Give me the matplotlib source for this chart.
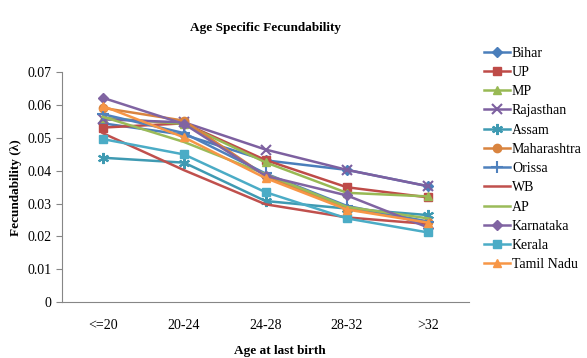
#!/usr/bin/env python3
"""Age specific fecundability by state, line chart."""

import matplotlib
matplotlib.use("Agg")
import matplotlib.pyplot as plt

plt.rcParams["font.family"] = ["Liberation Serif", "DejaVu Serif"]

# === DATA ===
age_groups = ["<=20", "20-24", "24-28", "28-32", ">32"]

bihar = [0.0545, 0.0510, 0.0432, 0.0403, 0.0353]
up = [0.0532, 0.0545, 0.0433, 0.0350, 0.0319]
mp = [0.0562, 0.0543, 0.0426, 0.0333, 0.0322]
rajasthan = [0.0557, 0.0548, 0.0465, 0.0403, 0.0353]
assam = [0.0440, 0.0425, 0.0308, 0.0285, 0.0265]
maharashtra = [0.0592, 0.0553, 0.0385, 0.0285, 0.0245]
orissa = [0.0573, 0.0515, 0.0392, 0.0293, 0.0245]
wb = [0.0515, 0.0402, 0.0298, 0.0258, 0.0238]
ap = [0.0565, 0.0488, 0.0390, 0.0290, 0.0255]
karnataka = [0.0623, 0.0543, 0.0385, 0.0325, 0.0227]
kerala = [0.0497, 0.0450, 0.0335, 0.0255, 0.0212]
tamil_nadu = [0.0598, 0.0502, 0.0378, 0.0282, 0.0242]

SERIES = [
    ("Bihar", bihar, "#4A7EBB", "D", 5),
    ("UP", up, "#BE4B48", "s", 6),
    ("MP", mp, "#98B954", "^", 6),
    ("Rajasthan", rajasthan, "#7D60A0", "x", 7),
    ("Assam", assam, "#3F9AB2", (6, 2, 0), 8),
    ("Maharashtra", maharashtra, "#D9843F", "o", 6),
    ("Orissa", orissa, "#4F81BD", "+", 8),
    ("WB", wb, "#C0504D", None, 0),
    ("AP", ap, "#9BBB59", None, 0),
    ("Karnataka", karnataka, "#8064A2", "D", 5),
    ("Kerala", kerala, "#4BACC6", "s", 6),
    ("Tamil Nadu", tamil_nadu, "#F79646", "^", 6),
]

W, H = 587, 358
fig = plt.figure(figsize=(W / 100, H / 100), dpi=100)
ax = fig.add_axes([62 / W, 1 - 302 / H, (469 - 62) / W, (302 - 72.5) / H])

x = list(range(len(age_groups)))
for name, vals, color, marker, ms in SERIES:
    ax.plot(x, vals, color=color, linewidth=1.8, marker=marker, markersize=ms,
            markeredgewidth=1.5 if marker in ("x", "+", (6, 2, 0)) else 1,
            label=name)

ax.set_xlim(-0.5, len(age_groups) - 0.5)
ax.set_ylim(0, 0.07)
ax.set_yticks([i / 100 for i in range(8)])
ax.set_yticklabels(["0"] + [f"{i / 100:.2f}" for i in range(1, 8)])
ax.set_xticks(x)
ax.set_xticklabels(age_groups)

axis_gray = "#868686"
for side in ("top", "right"):
    ax.spines[side].set_visible(False)
for side in ("left", "bottom"):
    ax.spines[side].set_color(axis_gray)
ax.tick_params(axis="y", length=4, color=axis_gray, labelsize=10, pad=3.5)
ax.tick_params(axis="x", length=0, labelsize=10, pad=12)

ax.set_xlabel("Age at last birth", fontsize=9.5, fontweight="bold")
ax.xaxis.set_label_coords((280 - 62) / (469 - 62), -(345 - 302) / (302 - 72.5))
ax.set_ylabel("Fecundability (\u03bb)", fontsize=9.5, fontweight="bold")
ax.yaxis.set_label_coords(-(62 - 22) / (469 - 62), 0.5)
fig.text(266 / W, 1 - 28 / H, "Age Specific Fecundability", ha="center", va="center",
         fontsize=9.5, fontweight="bold")

fig.legend(loc="upper left", bbox_to_anchor=(478 / W, 1 - 41 / H), frameon=False,
           fontsize=10, handlelength=1.9, handletextpad=0.15, labelspacing=0.45,
           borderaxespad=0)

fig.savefig("out.png", dpi=100)
